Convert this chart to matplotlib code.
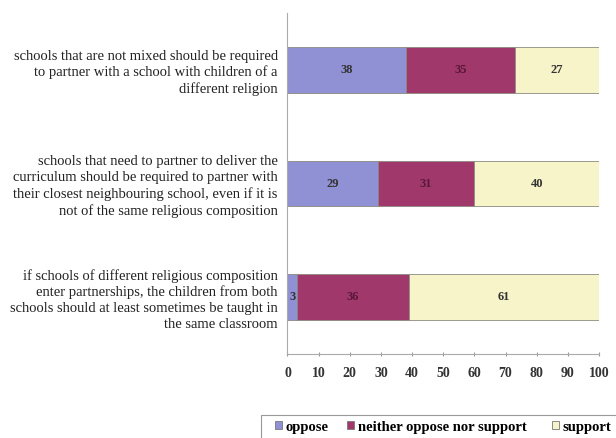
import matplotlib
matplotlib.use("Agg")
import matplotlib.pyplot as plt
from matplotlib.patches import Patch, Rectangle
import numpy as np

categories = [
    "schools that are not mixed should be required\nto partner with a school with children of a\ndifferent religion",
    "schools that need to partner to deliver the\ncurriculum should be required to partner with\ntheir closest neighbouring school, even if it is\nnot of the same religious composition",
    "if schools of different religious composition\nenter partnerships, the children from both\nschools should at least sometimes be taught in\nthe same classroom",
]
series_names = ["oppose", "neither oppose nor support", "support"]
oppose = [38, 29, 3]
neither = [35, 31, 36]
support = [27, 40, 61]
xticks = [0, 10, 20, 30, 40, 50, 60, 70, 80, 90, 100]

colors = ["#9090d4", "#a0386c", "#f6f4c8"]
text_colors = ["#333333", "#5a1838", "#333333"]

plt.rcParams['font.family'] = ['Liberation Serif', 'DejaVu Serif']

W, H = 616, 438
fig = plt.figure(figsize=(6.16, 4.38), dpi=100)
ax = fig.add_axes([0.4667, 0.192, 0.5057, 0.778])

y = np.arange(len(categories))
left = np.zeros(len(categories))
for vals, c, tc in zip([oppose, neither, support], colors, text_colors):
    vals = np.array(vals, dtype=float)
    bars = ax.barh(y, vals, left=left, height=0.40, color=c, edgecolor="#8a8a80", linewidth=0.6)
    for b, v in zip(bars, vals):
        ax.text(b.get_x() + b.get_width() / 2, b.get_y() + b.get_height() / 2, f"{int(v)}",
                ha="center", va="center", fontsize=9, fontweight="bold", color=tc)
    left += vals

ax.set_xlim(0, 100)
ax.set_ylim(len(categories) - 0.5, -0.5)
ax.set_xticks(xticks)
ax.set_xticklabels([str(t) for t in xticks], fontsize=10, fontweight="bold", color="#333333")
ax.set_yticks(y)
ax.set_yticklabels(categories, fontsize=10.5, color="#222222", linespacing=1.27)
ax.tick_params(axis="y", length=0, pad=7)
ax.tick_params(axis="x", length=3, direction="inout", color="#999999", pad=8)
for s in ["top", "right"]:
    ax.spines[s].set_visible(False)
for s in ["left", "bottom"]:
    ax.spines[s].set_color("#aaaaaa")
    ax.spines[s].set_linewidth(0.8)

# legend frame (extends past the figure's right/bottom edges as in the reference)
fig.patches.append(Rectangle((261 / W, -0.05), 0.6, (1 - 415 / H) + 0.05,
                             transform=fig.transFigure, facecolor="white",
                             edgecolor="#999999", linewidth=0.8, zorder=0))

# one legend entry per series, placed at the reference's entry positions
entry_x = [275, 347, 552]
for name, c, ex in zip(series_names, colors, entry_x):
    h = Patch(facecolor=c, edgecolor="#777777", linewidth=0.6)
    fig.legend([h], [name], loc="center left", bbox_to_anchor=(ex / W, 1 - 427 / H),
               frameon=False, prop={'weight': 'bold', 'size': 10.5},
               handlelength=0.5, handleheight=0.5, handletextpad=0.25,
               borderpad=0, borderaxespad=0)

fig.savefig("out.png", dpi=100)
